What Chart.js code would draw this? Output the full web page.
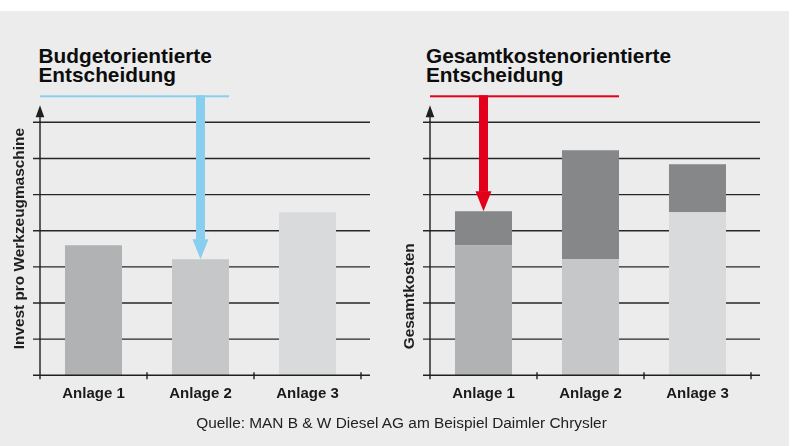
<!DOCTYPE html>
<html lang="de">
<head>
<meta charset="utf-8">
<title>Budget- und gesamtkostenorientierte Entscheidung</title>
<script src="https://cdn.jsdelivr.net/npm/chart.js@4.4.1/dist/chart.umd.min.js"></script>
<style>
    html, body { margin: 0; padding: 0; background: #fff; }
    body { width: 792px; height: 446px; position: relative; overflow: hidden; font-family: "Liberation Sans", Arial, sans-serif; }
    .panel-bg { position: absolute; left: 0; top: 11px; width: 789px; height: 435px; background: #ebeceb; }
    .title { position: absolute; top: 45.8px; font-weight: bold; font-size: 20.8px; line-height: 19.5px; color: #0d0d0d; white-space: nowrap; }
    canvas { position: absolute; top: 0; }
    .source { position: absolute; top: 413.5px; left: 0; width: 803px; text-align: center; font-size: 15.4px; color: #222; }
</style>
</head>
<body>
<div class="panel-bg"></div>
<div class="title" style="left: 38.5px;">Budgetorientierte<br>Entscheidung</div>
<div class="title" style="left: 426px;">Gesamtkostenorientierte<br>Entscheidung</div>
<canvas id="budgetChart" width="390" height="446" style="left: 0;"></canvas>
<canvas id="totalChart" width="390" height="446" style="left: 390px;"></canvas>
<div class="source">Quelle: MAN B &amp; W Diesel AG am Beispiel Daimler Chrysler</div>

<script>
// Values (unit = one grid step)
const categories = ['Anlage 1', 'Anlage 2', 'Anlage 3'];
const investValues = [3.6, 3.21, 4.51];
const followUpCosts = [0.94, 3.02, 1.33];
const yTicks = [0, 1, 2, 3, 4, 5, 6, 7];
const barColors = ['#b1b2b3', '#c6c7c8', '#d9dadb'];
const followUpColor = '#868788';

Chart.defaults.font.family = '"Liberation Sans", Arial, sans-serif';

function strokeLine(ctx, x1, y1, x2, y2) {
    ctx.beginPath();
    ctx.moveTo(x1, y1);
    ctx.lineTo(x2, y2);
    ctx.stroke();
}

// Grid, axes, axis title and the decision arrow
const panelDecor = {
    id: 'panelDecor',
    beforeDatasetsDraw(chart) {
        const { ctx, chartArea: a, scales: { y } } = chart;
        ctx.save();
        ctx.strokeStyle = '#262626';
        ctx.lineWidth = 1.4;
        yTicks.slice(1).forEach(v => {
            const py = y.getPixelForValue(v);
            strokeLine(ctx, a.left - 7, py, a.right + 9, py);
        });
        ctx.restore();
    },
    afterDatasetsDraw(chart, args, opts) {
        const { ctx, chartArea: a, scales: { y } } = chart;
        const base = y.getPixelForValue(0);
        ctx.save();
        ctx.strokeStyle = '#1f1f1f';
        ctx.fillStyle = '#1f1f1f';
        ctx.lineWidth = 1.4;

        // baseline + category separators
        strokeLine(ctx, a.left - 7, base, a.right + 9, base);
        const step = (a.right - a.left) / categories.length;
        for (let i = 1; i <= categories.length; i++) {
            strokeLine(ctx, a.left + i * step, base - 3, a.left + i * step, base + 4);
        }

        // y axis with arrow head
        const tipY = a.top - 17;
        strokeLine(ctx, a.left, base + 4, a.left, tipY + 8);
        ctx.beginPath();
        ctx.moveTo(a.left, tipY);
        ctx.lineTo(a.left - 4.3, tipY + 12);
        ctx.lineTo(a.left + 4.3, tipY + 12);
        ctx.closePath();
        ctx.fill();

        // rotated axis title
        ctx.save();
        ctx.font = 'bold 15.4px "Liberation Sans", Arial, sans-serif';
        ctx.translate(a.left - 16, base - 26);
        ctx.rotate(-Math.PI / 2);
        ctx.textAlign = 'left';
        ctx.textBaseline = 'alphabetic';
        ctx.fillText(opts.axisTitle, 0, 0);
        ctx.restore();

        // decision arrow: bracket line up to the right edge of Anlage 2, arrow down onto chosen bar
        const metas = chart.getSortedVisibleDatasetMetas();
        const topMeta = metas[metas.length - 1];
        const target = topMeta.data[opts.arrowIndex];
        const lineEnd = topMeta.data[1];
        const lineY = a.top - 26;
        const headH = 20, headW = 16, shaftW = 9;
        ctx.fillStyle = opts.arrowColor;
        ctx.fillRect(a.left, lineY - 1, lineEnd.x + lineEnd.width / 2 - a.left, 2);
        ctx.fillRect(target.x - shaftW / 2, lineY - 1, shaftW, target.y - headH - lineY + 1.5);
        ctx.beginPath();
        ctx.moveTo(target.x - headW / 2, target.y - headH);
        ctx.lineTo(target.x + headW / 2, target.y - headH);
        ctx.lineTo(target.x, target.y);
        ctx.closePath();
        ctx.fill();

        ctx.restore();
    }
};

function makeChart(canvasId, datasets, decor) {
    return new Chart(document.getElementById(canvasId), {
        type: 'bar',
        data: { labels: categories, datasets },
        options: {
            responsive: false,
            animation: false,
            layout: { padding: { left: 40, right: 29, top: 122.3, bottom: 32.7 } },
            plugins: {
                legend: { display: false },
                tooltip: { enabled: false },
                panelDecor: decor
            },
            scales: {
                x: {
                    stacked: true,
                    grid: { display: false, drawTicks: false },
                    border: { display: false },
                    ticks: { padding: 10, color: '#1a1a1a', font: { weight: 'bold', size: 15 } }
                },
                y: {
                    display: false,
                    stacked: true,
                    min: yTicks[0],
                    max: yTicks[yTicks.length - 1],
                    ticks: { stepSize: 1 }
                }
            }
        },
        plugins: [panelDecor]
    });
}

const barStyle = { barPercentage: 0.533, categoryPercentage: 1, borderWidth: 0 };

makeChart('budgetChart', [
    { label: 'Invest', data: investValues, backgroundColor: barColors, ...barStyle }
], { axisTitle: 'Invest pro Werkzeugmaschine', arrowColor: '#88cfef', arrowIndex: 1 });

makeChart('totalChart', [
    { label: 'Invest', data: investValues, backgroundColor: barColors, ...barStyle },
    { label: 'Folgekosten', data: followUpCosts, backgroundColor: followUpColor, ...barStyle }
], { axisTitle: 'Gesamtkosten', arrowColor: '#e2001a', arrowIndex: 0 });
</script>
</body>
</html>
